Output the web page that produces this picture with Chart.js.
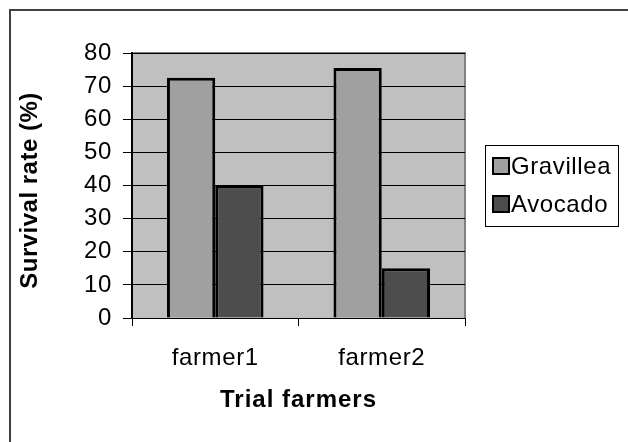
<!DOCTYPE html>
<html>
<head>
<meta charset="utf-8">
<script src="https://cdn.jsdelivr.net/npm/chart.js@4.4.1/dist/chart.umd.min.js"></script>
<style>
    html, body { margin: 0; padding: 0; background: #ffffff; }
    #wrap { position: relative; width: 628px; height: 442px; }
</style>
</head>
<body>
<div id="wrap"><canvas id="survivalChart"></canvas></div>
<script>
// Veriler
const farmers = ['farmer1', 'farmer2'];
const gravilleaValues = [72.5, 75.5];
const avocadoValues = [40, 15];
const seriesNames = ['Gravillea', 'Avocado'];
const seriesColors = ['#a0a0a0', '#4d4d4d'];
const yTicks = [0, 10, 20, 30, 40, 50, 60, 70, 80];

const FONT = '"Liberation Sans", Arial, sans-serif';
const SPACING = '0.6px';

// Arka plan, çerçeve ve başlıklar
const decorPlugin = {
    id: 'decor',
    beforeDraw(chart) {
        const ctx = chart.ctx;
        const a = chart.chartArea;
        ctx.save();
        ctx.fillStyle = '#ffffff';
        ctx.fillRect(0, 0, chart.width, chart.height);
        // dış çerçeve
        ctx.strokeStyle = '#404040';
        ctx.lineWidth = 2;
        ctx.strokeRect(10, 10, chart.width + 20, chart.height + 20);
        // çizim alanı
        ctx.fillStyle = '#c0c0c0';
        ctx.fillRect(a.left, a.top, a.right - a.left, a.bottom - a.top);
        ctx.strokeStyle = '#808080';
        ctx.lineWidth = 2;
        ctx.beginPath();
        ctx.moveTo(a.left, a.top);
        ctx.lineTo(a.right, a.top);
        ctx.lineTo(a.right, a.bottom);
        ctx.stroke();
        ctx.restore();
        ctx.letterSpacing = SPACING;
    },
    afterDraw(chart) {
        const ctx = chart.ctx;
        const a = chart.chartArea;
        ctx.save();
        ctx.fillStyle = '#000000';
        ctx.textAlign = 'center';
        ctx.textBaseline = 'middle';
        ctx.font = 'bold 24px ' + FONT;
        ctx.letterSpacing = '1px';
        ctx.fillText('Trial farmers', (a.left + a.right) / 2, 400);
        ctx.letterSpacing = '0.5px';
        ctx.translate(30, (a.top + a.bottom) / 2 + 5);
        ctx.rotate(-Math.PI / 2);
        ctx.fillText('Survival rate (%)', 0, 0);
        ctx.restore();

        // lejant
        ctx.save();
        ctx.letterSpacing = SPACING;
        ctx.strokeStyle = '#000000';
        ctx.lineWidth = 1;
        ctx.fillStyle = '#ffffff';
        ctx.fillRect(485.5, 145.5, 133, 81);
        ctx.strokeRect(485.5, 145.5, 133, 81);
        ctx.font = '24px ' + FONT;
        ctx.textAlign = 'left';
        ctx.textBaseline = 'middle';
        chart.data.datasets.forEach((ds, i) => {
            const y = 166 + i * 38;
            ctx.fillStyle = ds.backgroundColor;
            ctx.fillRect(493, y - 8, 16, 16);
            ctx.lineWidth = 2;
            ctx.strokeRect(493, y - 8, 16, 16);
            ctx.fillStyle = '#000000';
            ctx.fillText(ds.label, 511, y + 1);
        });
        ctx.restore();
    }
};

new Chart(document.getElementById('survivalChart'), {
    type: 'bar',
    data: {
        labels: farmers,
        datasets: [
            {
                label: seriesNames[0],
                data: gravilleaValues,
                backgroundColor: seriesColors[0],
                borderColor: '#000000',
                borderWidth: 3
            },
            {
                label: seriesNames[1],
                data: avocadoValues,
                backgroundColor: seriesColors[1],
                borderColor: '#000000',
                borderWidth: 3
            }
        ]
    },
    options: {
        responsive: true,
        maintainAspectRatio: false,
        animation: false,
        events: [],
        categoryPercentage: 0.58,
        barPercentage: 1.0,
        layout: { padding: { top: 53, right: 163, left: 0, bottom: 0 } },
        plugins: {
            legend: { display: false },
            tooltip: { enabled: false }
        },
        scales: {
            x: {
                afterFit(scale) { scale.height = 124; },
                grid: {
                    offset: true,
                    drawOnChartArea: false,
                    drawTicks: true,
                    tickLength: 8,
                    color: '#000000'
                },
                border: { color: '#000000', width: 1 },
                ticks: {
                    color: '#000000',
                    padding: 18,
                    font: { family: FONT, size: 24 }
                }
            },
            y: {
                min: 0,
                max: 80,
                afterFit(scale) { scale.width = 132; },
                afterBuildTicks(scale) {
                    scale.ticks = yTicks.map(v => ({ value: v }));
                },
                grid: {
                    color: '#000000',
                    lineWidth: 1,
                    tickLength: 9
                },
                border: { color: '#000000', width: 2 },
                ticks: {
                    color: '#000000',
                    padding: 11,
                    font: { family: FONT, size: 24 }
                }
            }
        }
    },
    plugins: [decorPlugin]
});
</script>
</body>
</html>
